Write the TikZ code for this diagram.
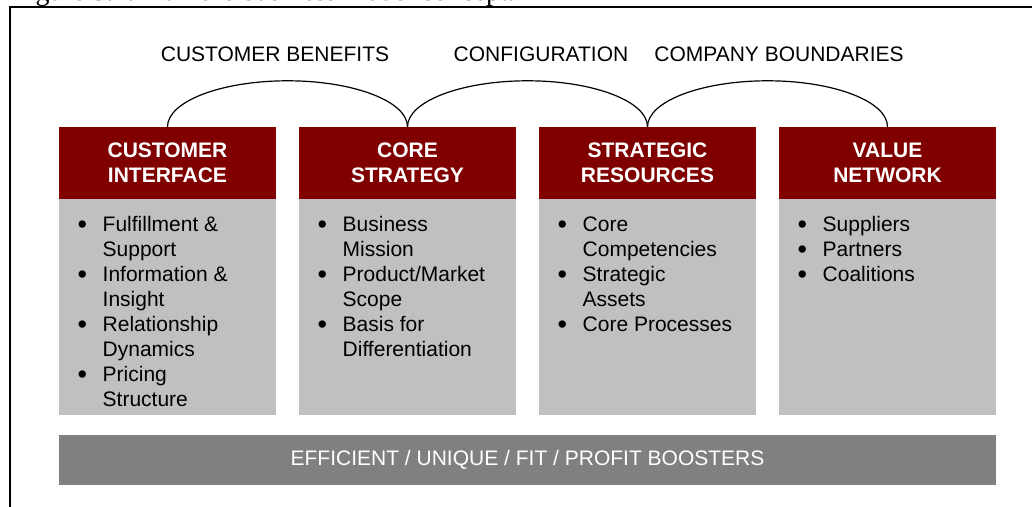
\documentclass[tikz,border=0pt]{standalone}
\usepackage{fontspec}
\setmainfont{Liberation Sans}
\newfontfamily\captionserif{Liberation Serif}

\definecolor{hamelred}{RGB}{128,0,0}
\definecolor{panelgray}{RGB}{192,192,192}
\definecolor{bargray}{RGB}{128,128,128}

\newcommand{\bigbul}{\raisebox{-2.5pt}{\fontsize{27}{25}\selectfont\textbullet}}

\begin{document}
\begin{tikzpicture}[
        x=1pt, y=-1pt,
        header/.style={fill=hamelred, text=white, minimum width=217pt, minimum height=72pt,
            inner sep=0pt, align=center, font=\fontsize{21}{25}\selectfont\bfseries},
        panel/.style={fill=panelgray, minimum width=217pt, minimum height=216pt,
            inner sep=0pt, anchor=north},
        items/.style={anchor=north west, inner sep=0pt, font=\fontsize{21}{25}\selectfont},
        topic/.style={inner sep=0pt, font=\fontsize{21}{25}\selectfont},
        boosters/.style={fill=bargray, text=white, minimum width=937pt, minimum height=50pt,
            inner sep=0pt, font=\fontsize{21}{25}\selectfont},
        link/.style={line width=1.2pt}
    ]

    \useasboundingbox (0,0) rectangle (1032,506);

    % cut caption and frame
    \node[anchor=base west, inner sep=0pt, font=\captionserif\fontsize{28}{32}\selectfont]
        (caption) at (12,0.5) {Figure 3.4: Hamel's business model concept.};
    \draw[line width=2pt] (10,520) |- (1045,7);

    % headers and panels (4 components)
    \foreach \x/\n/\t in {167.5/1/{CUSTOMER\\INTERFACE}, 407.5/2/{CORE\\STRATEGY},
                          647.5/3/{STRATEGIC\\RESOURCES}, 887.5/4/{VALUE\\NETWORK}} {
        \node[header] (H\n) at (\x, 163) {\t};
        \node[panel] (P\n) at (H\n.south) {};
    }

    % bullet lists
    \node[items] (L1) at (77.5, 213.5) {\begin{tabular}{@{}p{25pt}@{}l@{}}
        \bigbul & Fulfillment \& \\ & Support \\
        \bigbul & Information \& \\ & Insight \\
        \bigbul & Relationship \\ & Dynamics \\
        \bigbul & Pricing \\ & Structure
    \end{tabular}};
    \node[items] (L2) at (317.5, 213.5) {\begin{tabular}{@{}p{25pt}@{}l@{}}
        \bigbul & Business \\ & Mission \\
        \bigbul & Product/Market \\ & Scope \\
        \bigbul & Basis for \\ & Differentiation
    \end{tabular}};
    \node[items] (L3) at (557.5, 213.5) {\begin{tabular}{@{}p{25pt}@{}l@{}}
        \bigbul & Core \\ & Competencies \\
        \bigbul & Strategic \\ & Assets \\
        \bigbul & Core Processes
    \end{tabular}};
    \node[items] (L4) at (797.5, 213.5) {\begin{tabular}{@{}p{25pt}@{}l@{}}
        \bigbul & Suppliers \\
        \bigbul & Partners \\
        \bigbul & Coalitions
    \end{tabular}};

    % linking themes
    \node[topic] (benefits) at (275, 54) {CUSTOMER BENEFITS};
    \node[topic] (config) at (541, 54) {CONFIGURATION};
    \node[topic] (bounds) at (779, 54) {COMPANY BOUNDARIES};

    \foreach \i in {1,2,3}
        \draw[link] (H\i.north) arc[start angle=180, end angle=0, x radius=120pt, y radius=46pt];

    % base bar
    \node[boosters] (B) at (527.5, 460) {EFFICIENT / UNIQUE / FIT / PROFIT BOOSTERS};

\end{tikzpicture}
\end{document}
